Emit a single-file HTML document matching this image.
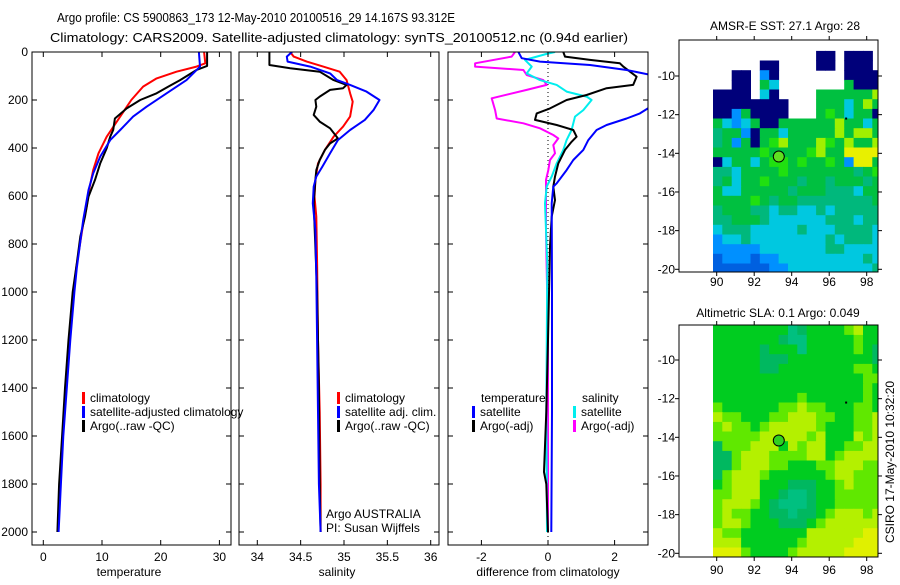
<!DOCTYPE html>
<html><head><meta charset="utf-8"><style>
body{margin:0;background:#fff}
svg text{font-family:"Liberation Sans",sans-serif;font-size:12px;fill:#000}
</style></head><body>
<svg id="s" xmlns="http://www.w3.org/2000/svg" width="900" height="580" viewBox="0 0 900 580">
<text x="57" y="22" textLength="398" lengthAdjust="spacingAndGlyphs" style="font-size:13px">Argo profile: CS 5900863_173 12-May-2010 20100516_29 14.167S 93.312E</text>
<text x="50" y="42" textLength="578" lengthAdjust="spacingAndGlyphs" style="font-size:13px">Climatology: CARS2009. Satellite-adjusted climatology: synTS_20100512.nc (0.94d earlier)</text>
<text x="785" y="30" text-anchor="middle">AMSR-E SST: 27.1 Argo: 28</text>
<text x="778" y="317" text-anchor="middle">Altimetric SLA: 0.1 Argo: 0.049</text>
<text transform="translate(894,462) rotate(-90)" text-anchor="middle">CSIRO 17-May-2010 10:32:20</text>
<text x="129" y="576" text-anchor="middle">temperature</text>
<text x="337" y="576" text-anchor="middle">salinity</text>
<text x="548" y="576" text-anchor="middle">difference from climatology</text>
<text x="326" y="518">Argo AUSTRALIA</text>
<text x="326" y="532">PI: Susan Wijffels</text>
</svg>
<script>
const tRedD=[0,47,61,82,110,144,200,269,353,422,492,575,644,700,900,1000,1200,1400,1600,1800,2000];
const tRedV=[27.4,27.6,26.1,22.7,19.3,17.0,15.0,13.1,10.8,9.4,8.5,7.8,7.4,6.9,5.6,5.2,4.5,3.9,3.3,2.9,2.5];
const tBluD=[0,61,68,117,172,228,269,325,367,436,506,575,658,700,900,1000,1200,1400,1600,1800,2000];
const tBluV=[26.5,26.7,26.4,24.4,21.0,17.6,15.3,13.1,11.4,9.7,8.5,7.7,7.1,6.8,5.7,5.3,4.6,4.0,3.4,3.0,2.6];
const tArgD=[0,58,75,117,144,172,200,235,277,325,353,401,464,533,603,686,769,881,1000,1200,1400,1600,1800,2000];
const tArgV=[27.9,27.9,26.1,23.3,21.3,19.3,16.5,14.2,12.2,11.9,11.4,10.8,9.7,8.8,7.7,7.1,6.3,5.7,5.0,4.3,3.7,3.2,2.7,2.4];
const sRedD=[0,19,40,61,82,117,172,207,269,311,353,408,464,533,603,686,881,1200,1500,1800,2000];
const sRedV=[34.38,34.42,34.57,34.76,34.95,35.03,35.07,35.10,35.07,34.99,34.88,34.78,34.70,34.67,34.66,34.68,34.69,34.70,34.72,34.73,34.73];
const sBluD=[0,19,40,61,89,117,137,165,200,242,283,325,367,422,478,519,561,631,742,936,1200,1500,1800,2000];
const sBluV=[34.40,34.34,34.35,34.61,34.84,34.92,35.07,35.26,35.41,35.34,35.24,35.07,34.93,34.84,34.75,34.68,34.65,34.64,34.67,34.68,34.69,34.70,34.71,34.73];
const sArgD=[0,54,68,82,117,137,151,158,186,200,228,262,290,318,360,381,408,450,492,533,631,1000,1400,1800,2000];
const sArgV=[34.14,34.14,34.38,34.72,34.88,35.03,34.99,34.84,34.72,34.67,34.68,34.65,34.72,34.84,34.93,34.84,34.78,34.72,34.68,34.67,34.65,34.69,34.71,34.72,34.73];
const dTArgD=[0,19,33,47,61,103,137,151,179,200,235,256,283,304,325,353,374,408,464,519,561,617,686,811,1200,1500,1750,1800,2000];
const dTArgV=[0.46,0.51,1.26,2.16,2.26,2.66,2.56,1.76,1.16,0.56,0.06,-0.34,-0.39,0.26,0.76,0.86,0.71,0.51,0.31,0.21,0.16,0.21,0.11,0.06,0.0,-0.05,-0.12,-0.05,0.0];
const dTSatD=[0,26,40,54,75,96,144,186,235,256,277,304,325,367,408,450,492,547,561,631,1000,1500,2000];
const dTSatV=[-0.89,-0.79,-0.24,1.26,2.36,3.1,3.6,3.6,3.0,2.76,2.36,1.76,1.46,1.21,1.06,0.76,0.56,0.26,0.16,0.11,0.12,0.12,0.1];
const dSSatD=[0,8,33,61,89,117,137,165,186,200,242,269,325,367,408,464,519,561,631,742,881,1500,2000];
const dSSatV=[0.21,-0.04,-0.69,-0.49,-0.64,-0.24,0.26,0.56,1.16,1.31,1.06,0.81,0.71,0.56,0.46,0.26,0.11,-0.04,-0.09,-0.06,-0.02,-0.05,-0.03];
const dSArgD=[0,19,47,61,75,96,117,137,158,193,242,277,297,318,346,360,388,422,450,492,533,603,742,1200,2000];
const dSArgV=[-0.99,-1.09,-2.19,-2.19,-0.74,-0.64,-0.14,-0.04,-0.64,-1.69,-1.59,-1.54,-0.74,-0.24,0.16,0.31,0.16,0.21,0.06,0.01,-0.06,-0.06,-0.06,0.0,0.0];
const depthTicks=[0,200,400,600,800,1000,1200,1400,1600,1800,2000];
const tempTicks=[0,10,20,30];
const salTicks=[34,34.5,35,35.5,36];
const diffTicks=[-2,0,2];
const lonTicks=[90,92,94,96,98];
const latTicks=[-10,-12,-14,-16,-18,-20];
const argoLon=93.312, argoLat=-14.167;
const sstRows=[
"wwwwwwwwwwwwwwwwww","wwwwwwwwwwwnnwnnnw","wwwwwnnwwwwnnwnnnw","wwnnwbnwwwwwwwnnnn",
"wwnnwgcwwwwwwwgnnn","nnnnwcnwwwwggggggy","nnnnnnnnwwwgggcgyg","nnbgnnnnwwwgGgcggn",
"gcbcgnnggggggyggcg","tggbnggcgggggygyyg","tgbgngGygggyGgyggy","gggggGggggGyggYYYY",
"ncggcgGGgGggGgbYYg","ttcggggGgggggggtgG","tgcggGgggtggtgggtg","gccgggggtgggtttcgg",
"ggggGgtggttttttttg","tgggttcttcctcttttt","ttgggtcccccctttctt","ctttccccctcccttttc",
"bcctcccccccctctttc","bbbbbcccccccttcccc","BbbbBbbccccccccctc","BBBBBBbbccccccccct"];
const slaRows=[
"ggggggggtdgggglygg","gggggggdttggggglgg","gggggdgggtggggglgd","gggggdddgggggggggd",
"gggggddggggggggllg","ggggggggggggggggll","gggggggggggggggglg","ggggggggglgggggglg",
"lggggggllyllgggllg","yllgggllyyyllgglly","lyllglyyyyylggglly","lllllyyyyylygggyly",
"dlllyyygylyyggllyy","ddlyyyllllyyglyyyy","ddlyyyllgggllyyyll","dlyyylgggggglyylll",
"glyyygggdddgglylll","llyyyggdttdgglllll","lyyylgdtttdgglllll","lyllggddtddglyyyly",
"lyylgggdddglyyyyyy","yllgggggggyyyyyyYY","yyygggggglyyyyyYYY","YYYlgggglyyyyyYYYY"];
const sstColors={w:null,n:"#00007a",g:"#00c040",G:"#20e010",t:"#00b87c",c:"#00c8e0",b:"#0090ff",B:"#0060e0",y:"#a0f000",Y:"#e8f000"};
const slaColors={g:"#00cc20",d:"#00b860",t:"#00c080",l:"#60e800",y:"#b4f000",Y:"#e0f000"};

const svg=document.getElementById('s');
const NS="http://www.w3.org/2000/svg";
function mk(tag,at,parent){const e=document.createElementNS(NS,tag);for(const k in at)e.setAttribute(k,at[k]);(parent||svg).appendChild(e);return e;}
function txt(x,y,s,anchor,parent){const t=mk('text',{x:x,y:y,'text-anchor':anchor||'middle'},parent);t.textContent=s;return t;}

const yTop=52, yBot=545;
const yD=d=>yTop+d*0.24;
let clipN=0;
function panel(name,x0,x1,xf,ticks,leftLabels){
  const g=mk('g',{});
  
  
  const id='c'+(clipN++);
  const cp=mk('clipPath',{id:id},g);mk('rect',{x:x0,y:yTop,width:x1-x0,height:yBot-yTop},cp);
  const inner=mk('g',{'clip-path':'url(#'+id+')'},g);
  mk('rect',{x:x0,y:yTop,width:x1-x0,height:yBot-yTop,fill:'none',stroke:'#000','stroke-width':1},g);
  depthTicks.forEach(d=>{const y=yD(d);
    mk('line',{x1:x0,x2:x0+5,y1:y,y2:y,stroke:'#000'},g);mk('line',{x1:x1-5,x2:x1,y1:y,y2:y,stroke:'#000'},g);
    if(leftLabels){const t=txt(28,y+4,String(d),'end',g);}
  });
  ticks.forEach(v=>{const x=xf(v);
    mk('line',{x1:x,x2:x,y1:yBot,y2:yBot-5,stroke:'#000'},g);mk('line',{x1:x,x2:x,y1:yTop,y2:yTop+5,stroke:'#000'},g);
    const t=txt(x,561,String(v),'middle',g);
    
    
  });
  return inner;
}
function line(parent,D,V,xf,color,name,w){
  const p=D.map((d,i)=>xf(V[i]).toFixed(1)+','+yD(d).toFixed(1)).join(' ');
  const e=mk('polyline',{points:p,fill:'none',stroke:color,'stroke-width':w||2,'stroke-linejoin':'round'},parent);
  
  
}
const xT=v=>43.3+v*5.87, xS=v=>257.3+(v-34)*86.7, xDf=v=>548+v*33.3;
const p1=panel('temperature',32,231,xT,tempTicks,true);
line(p1,tRedD,tRedV,xT,'#f00','temp-climatology-line');
line(p1,tArgD,tArgV,xT,'#000','temp-argo-line');
line(p1,tBluD,tBluV,xT,'#00f','temp-satellite-line');
const p2=panel('salinity',239,439,xS,salTicks,false);
line(p2,sRedD,sRedV,xS,'#f00','sal-climatology-line');
line(p2,sArgD,sArgV,xS,'#000','sal-argo-line');
line(p2,sBluD,sBluV,xS,'#00f','sal-satellite-line');
const p3=panel('difference',448,648,xDf,diffTicks,false);
const zl=mk('line',{x1:xDf(0),x2:xDf(0),y1:yTop,y2:yBot,stroke:'#000','stroke-dasharray':'1,3'},p3);


line(p3,dSArgD,dSArgV,xDf,'#f0f','sal-argo-diff-line');
line(p3,dSSatD,dSSatV,xDf,'#0ee','sal-satellite-diff-line');
line(p3,dTArgD,dTArgV,xDf,'#000','temp-argo-diff-line');
line(p3,dTSatD,dTSatV,xDf,'#00f','temp-satellite-diff-line');

function legend(x,y,color,label,name){
  const g=mk('g',{});
  
  
  if(color) mk('rect',{x:x,y:y-10,width:3,height:12,fill:color},g);
  txt(x+8,y,label,'start',g);
}
legend(82,402,'#f00','climatology','legend-climatology');
legend(82,416,'#00f','satellite-adjusted climatology','legend-satellite-adjusted');
legend(82,430,'#000','Argo(..raw -QC)','legend-argo');
legend(337,402,'#f00','climatology','legend-sal-climatology');
legend(337,416,'#00f','satellite adj. clim.','legend-sal-satellite');
legend(337,430,'#000','Argo(..raw -QC)','legend-sal-argo');
legend(473,402,null,'temperature','legend-temp-header');
legend(472,416,'#00f','satellite','legend-temp-satellite');
legend(472,430,'#000','Argo(-adj)','legend-temp-argo');
legend(574,402,null,'salinity','legend-sal-header');
legend(573,416,'#0ee','satellite','legend-dsal-satellite');
legend(573,430,'#f0f','Argo(-adj)','legend-dsal-argo');

function map(name,rows,colors,y0,y1,latRef,labY,dotFill){
  const x0=679,x1=878;
  const xL=l=>716.7+(l-90)*18.75;
  const yL=l=>latRef+(-10-l)*19.33;
  const g=mk('g',{});
  
  
  const id='c'+(clipN++);
  const cp=mk('clipPath',{id:id},g);mk('rect',{x:x0,y:y0,width:x1-x0,height:y1-y0},cp);
  const inner=mk('g',{'clip-path':'url(#'+id+')'},g);
  rows.forEach((r,ri)=>{for(let ci=0;ci<r.length;ci++){const c=colors[r[ci]];if(!c)continue;
    const la=-8.2-ri*0.5, lo=89.8+ci*0.5;
    const cell=mk('rect',{x:xL(lo).toFixed(1),y:yL(la).toFixed(1),width:(0.5*18.75+0.5).toFixed(1),height:(0.5*19.33+0.5).toFixed(1),fill:c},inner);
    
    
  }});
  mk('rect',{x:xL(96.85),y:yL(-12.15),width:2,height:2,fill:'#000'},inner);
  const ac=mk('circle',{cx:xL(argoLon),cy:yL(argoLat),r:5.5,fill:dotFill,stroke:'#000','stroke-width':1},inner);
  
  
  mk('rect',{x:x0,y:y0,width:x1-x0,height:y1-y0,fill:'none',stroke:'#000'},g);
  lonTicks.forEach(l=>{const x=xL(l);mk('line',{x1:x,x2:x,y1:y1,y2:y1+4,stroke:'#000'},g);mk('line',{x1:x,x2:x,y1:y0,y2:y0-4,stroke:'#000'},g);
    const t=txt(x,labY,String(l),'middle',g);});
  latTicks.forEach(l=>{const y=yL(l);mk('line',{x1:x0,x2:x0-4,y1:y,y2:y},g).setAttribute('stroke','#000');mk('line',{x1:x1,x2:x1+4,y1:y,y2:y,stroke:'#000'},g);
    const t=txt(675,y+4,String(l),'end',g);});
}
map('sst-map',sstRows,sstColors,40,272,76,286,'#60e020');
map('sla-map',slaRows,slaColors,325,557,360,574,'#30d020');
</script>
</body></html>
